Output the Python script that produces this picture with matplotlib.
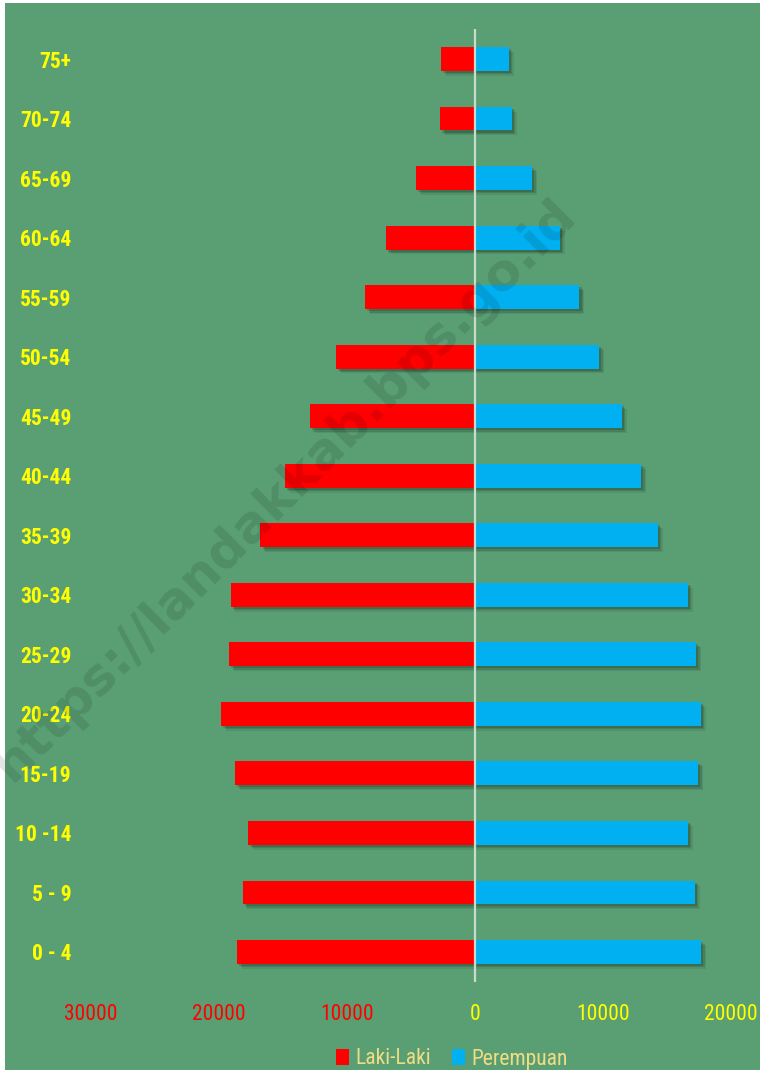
import matplotlib
matplotlib.use("Agg")
import matplotlib.pyplot as plt
import matplotlib.patheffects as pe
from matplotlib import font_manager
from matplotlib.patches import Rectangle, Patch
import numpy as np

age_groups = ["0 - 4", "5 - 9", "10 -14", "15-19", "20-24", "25-29", "30-34", "35-39",
              "40-44", "45-49", "50-54", "55-59", "60-64", "65-69", "70-74", "75+"]
laki_laki = [18550, 18130, 17700, 18710, 19800, 19190, 19070, 16740,
             14830, 12880, 10830, 8560, 6940, 4580, 2690, 2610]
perempuan = [17660, 17180, 16630, 17440, 17630, 17270, 16630, 14290,
             12980, 11480, 9700, 8170, 6630, 4470, 2890, 2650]
x_ticks = [-30000, -20000, -10000, 0, 10000, 20000]
x_tick_labels = ["30000", "20000", "10000", "0", "10000", "20000"]
series_names = ["Laki-Laki", "Perempuan"]

# pick a condensed font if one is installed
fonts = font_manager.fontManager.ttflist
names = {f.name for f in fonts}
FONT, STRETCH, SIZE = ["Liberation Sans", "DejaVu Sans"], "normal", 13.5
if "Liberation Sans Narrow" in names:
    FONT, STRETCH, SIZE = ["Liberation Sans Narrow", "DejaVu Sans"], "normal", 16
elif "Roboto Condensed" in names:
    FONT, STRETCH, SIZE = ["Roboto Condensed", "DejaVu Sans"], "normal", 15.5
elif any(f.name == "DejaVu Sans" and f.stretch == "condensed" for f in fonts):
    FONT, STRETCH, SIZE = ["DejaVu Sans", "Liberation Sans"], "condensed", 14
plt.rcParams['font.family'] = FONT
plt.rcParams['font.stretch'] = STRETCH

W, H = 760, 1070
fig = plt.figure(figsize=(W / 100, H / 100), dpi=100, facecolor="white")
GREEN = "#5A9F74"
bg = Rectangle((5 / W, 0), 1 - 5 / W, 1 - 3 / H, transform=fig.transFigure,
               facecolor=GREEN, edgecolor="none", zorder=-10)
fig.patches.append(bg)

left, right = 90.6 / W, 731 / W
top, bottom = 1 - 29.3 / H, 1 - 981.7 / H
ax = fig.add_axes([left, bottom, right - left, top - bottom])
ax.set_facecolor("none")
ax.set_zorder(1)

y = np.arange(len(age_groups))
shadow = [pe.SimplePatchShadow(offset=(o, -o), shadow_rgbFace="black", alpha=a)
          for o, a in [(3.5, 0.08), (2.5, 0.12), (1.5, 0.15)]] + [pe.Normal()]
bm = ax.barh(y, -np.array(laki_laki), height=0.40, color="#FF0000", zorder=2)
bf = ax.barh(y, perempuan, height=0.40, color="#00B0F0", zorder=2)
for b in list(bm) + list(bf):
    b.set_path_effects(shadow)

ax.set_xlim(-30000, 20000)
ax.set_ylim(-0.5, len(age_groups) - 0.5)
ax.axvline(0, color="#C9DCCB", lw=1.6, zorder=3)

for s in ax.spines.values():
    s.set_visible(False)

ax.set_yticks(y)
ax.set_yticklabels(age_groups, fontsize=SIZE, fontweight="bold", color="#FFFF00")
ax.tick_params(axis="y", length=0, pad=14)

ax.set_xticks(x_ticks)
ax.set_xticklabels(x_tick_labels, fontsize=SIZE)
for lbl, v in zip(ax.get_xticklabels(), x_ticks):
    lbl.set_color("#FF0000" if v < 0 else "#FFFF00")
ax.tick_params(axis="x", length=0, pad=16)

handles = [Patch(facecolor="#FF0000", edgecolor="none"), Patch(facecolor="#00B0F0", edgecolor="none")]
leg = fig.legend(handles, series_names, loc="center", bbox_to_anchor=(452 / W, 1 - 1059 / H),
                 ncol=2, frameon=False, handlelength=0.6, handleheight=0.8,
                 handletextpad=0.3, columnspacing=1.0,
                 prop={"family": FONT, "size": SIZE, "stretch": STRETCH})
for t in leg.get_texts():
    t.set_color("#F0DC82")

fig.text(285 / W, 1 - 490 / H, "https://landakkab.bps.go.id", rotation=45, ha="center", va="center",
         fontsize=37, fontweight="bold", color="black", alpha=0.11, family="DejaVu Sans",
         fontstretch="normal", zorder=10)

fig.savefig("out.png", dpi=100, facecolor="white")
